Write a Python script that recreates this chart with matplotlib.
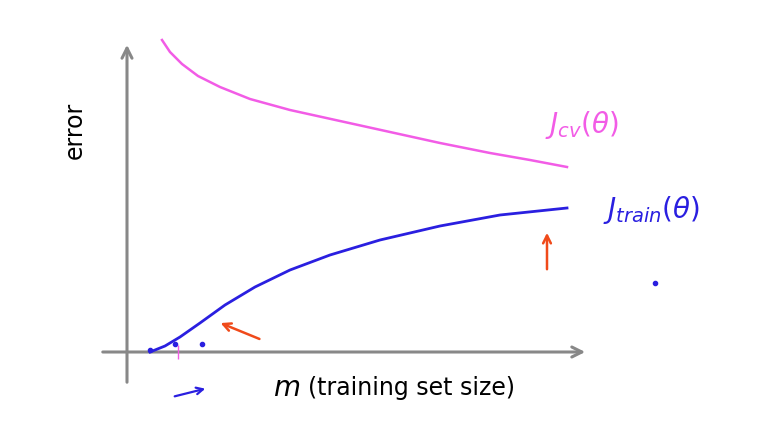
import matplotlib
matplotlib.use("Agg")
import matplotlib.pyplot as plt
from matplotlib.patches import FancyArrowPatch

# curves (x = training set size, y = error, pixel-like units)
cv_x = [162, 170, 182, 198, 220, 250, 290, 340, 390, 440, 490, 530, 567]
cv_y = [40, 52, 64, 76, 87, 99, 110, 121, 132, 143, 153, 160, 167]
train_x = [150, 165, 180, 200, 225, 255, 290, 330, 380, 440, 500, 567]
train_y = [352, 346, 337, 323, 305, 287, 270, 255, 240, 226, 215, 208]

MAGENTA = "#F25CE6"
BLUE = "#2A1FE0"
RED = "#F04A1A"
GREY = "#888888"

fig = plt.figure(figsize=(7.82, 4.45), dpi=100)
ax = fig.add_axes([0, 0, 1, 1])
ax.set_xlim(0, 782)
ax.set_ylim(445, 0)
ax.axis("off")


def arrow(start, end, color, lw=2.0, ms=18, style="-|>"):
    ax.add_patch(FancyArrowPatch(start, end, arrowstyle=style, mutation_scale=ms,
                                 color=color, linewidth=lw))


# axes
arrow((127, 385), (127, 42), GREY, lw=2.2, style="->")
arrow((100, 352), (588, 352), GREY, lw=2.2, style="->")

ax.plot(cv_x, cv_y, color=MAGENTA, lw=1.8)
ax.plot(train_x, train_y, color=BLUE, lw=2.0)

ax.text(75, 130, "error", rotation=90, ha="center", va="center", fontsize=17)
ax.text(300, 388, r"$m$", ha="right", va="center", fontsize=20, family="serif")
ax.text(308, 388, "(training set size)", ha="left", va="center", fontsize=17)
ax.text(545, 125, r"$J_{cv}(\theta)$", color=MAGENTA, fontsize=20, va="center")
ax.text(603, 210, r"$J_{train}(\theta)$", color=BLUE, fontsize=20, va="center")

arrow((547, 272), (547, 230), RED, lw=1.8, ms=14, style="->")
arrow((262, 340), (218, 322), RED, lw=1.8, ms=14, style="->")
arrow((172, 397), (208, 388), BLUE, lw=1.6, ms=12, style="->")
ax.plot([150, 175, 202, 655], [350, 344, 344, 283], "o", color=BLUE, ms=3)
ax.plot([178], [352], "|", color=MAGENTA, ms=10)

fig.savefig("out.png", dpi=100, facecolor="white")
